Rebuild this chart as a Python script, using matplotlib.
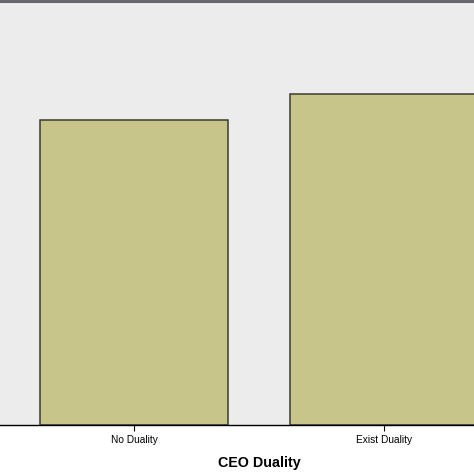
import matplotlib
matplotlib.use("Agg")
import matplotlib.pyplot as plt

categories = ["No Duality", "Exist Duality"]
values = [0.719, 0.780]
x_label = "CEO Duality"

plt.rcParams['font.family'] = ['Liberation Sans', 'DejaVu Sans']

fig = plt.figure(figsize=(4.74, 4.74), dpi=100)
ax = fig.add_axes([0.0, 0.1044, 1.0, 0.8935])
ax.set_facecolor('#ececec')

pos = range(len(categories))
ax.bar(pos, values, width=0.752, color='#c8c58a', edgecolor='#3b3b30', linewidth=1.1, zorder=2)

ax.set_xlim(-0.536, 1.36)
ax.set_ylim(0, 1)
ax.set_xticks(list(pos))
ax.set_xticklabels(categories, fontsize=7.3)
ax.tick_params(axis='x', length=4, width=0.8, color='black', pad=3.5)
ax.set_yticks([])

for s in ['left', 'right']:
    ax.spines[s].set_visible(False)
ax.spines['bottom'].set_color('black')
ax.spines['bottom'].set_linewidth(1.0)
ax.spines['top'].set_color('#66666e')
ax.spines['top'].set_linewidth(2.2)

# the original chart was cropped, so the title sits right of centre
ax.set_xlabel(x_label, fontsize=10.3, fontweight='bold', labelpad=8)
ax.xaxis.label.set_x(0.547)

fig.savefig("out.png", dpi=100, facecolor='white')
